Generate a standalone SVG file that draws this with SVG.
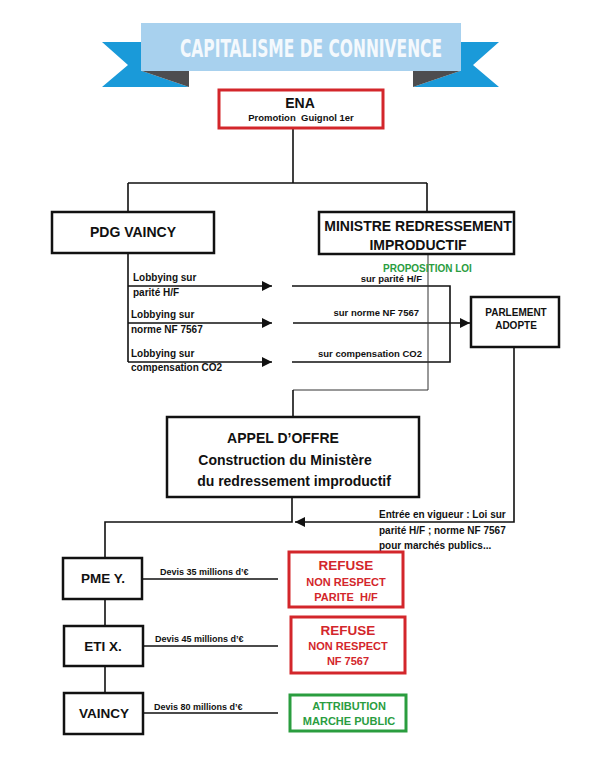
<svg xmlns="http://www.w3.org/2000/svg" width="599" height="777" viewBox="0 0 599 777">
<defs>
<style>
text{font-family:"Liberation Sans",Arial,sans-serif;font-weight:bold;fill:#111}
.box{fill:#fff;stroke:#111;stroke-width:2.5}
.red{fill:#fff;stroke:#d3262b;stroke-width:3}
.grn{fill:#fff;stroke:#2a9d3f;stroke-width:3}
.rt{fill:#d3262b}
.gt{fill:#2a9d3f}
.ln{fill:none;stroke:#111;stroke-width:1.6}
.thin{fill:none;stroke:#333;stroke-width:1}
.mid{text-anchor:middle}
.end{text-anchor:end}
</style>
<marker id="ah" viewBox="0 0 10 10" refX="10" refY="5" markerWidth="10" markerHeight="10" markerUnits="userSpaceOnUse" orient="auto">
<path d="M0,0 L10,5 L0,10 Z" fill="#111"/>
</marker>
</defs>
<rect width="599" height="777" fill="#fff"/>

<g id="banner">
<polygon points="102,42 142,42 142,71 189,87 102,87 128,65" fill="#1a9ad9"/>
<polygon points="142,71 189,71 189,87" fill="#4d4d4f"/>
<polygon points="499,42 460,42 460,71 413,87 499,87 473,65" fill="#1a9ad9"/>
<polygon points="460,71 413,71 413,87" fill="#4d4d4f"/>
<rect x="141" y="23" width="320" height="48" fill="#a8d1ee"/>
<text x="180" y="56.5" textLength="262" lengthAdjust="spacingAndGlyphs" style="font-family:'DejaVu Sans Condensed','Liberation Sans Narrow',sans-serif;font-size:24px;fill:#f4f9fd">CAPITALISME DE CONNIVENCE</text>
</g>

<g id="connectors">
<path class="ln" d="M293,128 V183 M128,183 H427 M128,183 V212 M427,183 V212"/>
<path class="ln" d="M128,253 V362"/>
<path class="ln" d="M128,286 H272" marker-end="url(#ah)"/>
<path class="ln" d="M128,323 H272" marker-end="url(#ah)"/>
<path class="ln" d="M128,362 H272" marker-end="url(#ah)"/>
<path class="ln" d="M292,286 H450 V362 H292"/>
<path class="ln" d="M293,323 H470" marker-end="url(#ah)"/>
<path class="thin" d="M428,254 V390 H293"/>
<path class="ln" d="M293,390 V417"/>
<path class="ln" d="M514,347 V522 H295" marker-end="url(#ah)"/>
<path class="ln" d="M292,497 V522 H105 V558"/>
<path class="ln" d="M105,599 V626 M105,666 V693"/>
<path class="ln" d="M143,579 H278 M143,646 H278 M143,713 H278"/>
</g>

<g id="ena">
<rect class="red" x="219" y="90" width="164" height="38"/>
<text class="mid" x="300" y="108" style="font-size:14px">ENA</text>
<text class="mid" x="301" y="121" style="font-size:9.5px" xml:space="preserve">Promotion  Guignol 1er</text>
</g>

<g id="pdg">
<rect class="box" x="52" y="212" width="162" height="41"/>
<text class="mid" x="133" y="237" style="font-size:14px">PDG VAINCY</text>
</g>

<g id="ministre">
<rect class="box" x="319" y="212" width="195" height="42"/>
<text class="mid" x="418" y="231" style="font-size:14px">MINISTRE REDRESSEMENT</text>
<text class="mid" x="418" y="250" style="font-size:14px">IMPRODUCTIF</text>
</g>

<g id="labels">
<text class="gt" x="383" y="272" style="font-size:10px">PROPOSITION LOI</text>
<text x="133" y="281" style="font-size:10px">Lobbying sur</text>
<text x="133" y="296" style="font-size:10px">parité H/F</text>
<text x="131" y="318" style="font-size:10px">Lobbying sur</text>
<text x="131" y="333" style="font-size:10px">norme NF 7567</text>
<text x="131" y="357" style="font-size:10px">Lobbying sur</text>
<text x="131" y="371" style="font-size:10px">compensation CO2</text>
<text class="end" x="422" y="282" style="font-size:9.5px">sur parité H/F</text>
<text class="end" x="419" y="316" style="font-size:9.5px">sur norme NF 7567</text>
<text class="end" x="422" y="357" style="font-size:9.5px">sur compensation CO2</text>
<text x="379" y="518" style="font-size:10px">Entrée en vigueur : Loi sur</text>
<text x="379" y="534" style="font-size:10px">parité H/F ; norme NF 7567</text>
<text x="379" y="549" style="font-size:10px">pour marchés publics...</text>
<text x="160" y="575" style="font-size:9px">Devis 35 millions d’€</text>
<text x="155" y="642" style="font-size:9px">Devis 45 millions d’€</text>
<text x="154" y="710" style="font-size:9px">Devis 80 millions d’€</text>
</g>

<g id="parlement">
<rect class="box" x="471" y="297" width="88" height="50"/>
<text class="mid" x="516" y="316" style="font-size:10px">PARLEMENT</text>
<text class="mid" x="516" y="329" style="font-size:10px">ADOPTE</text>
</g>

<g id="appel">
<rect class="box" x="167" y="417" width="252" height="80"/>
<text class="mid" x="283" y="443" style="font-size:14px">APPEL D’OFFRE</text>
<text class="mid" x="285" y="465" style="font-size:14px">Construction du Ministère</text>
<text class="mid" x="294" y="486" style="font-size:14px">du redressement improductif</text>
</g>

<g id="pme">
<rect class="box" x="63" y="558" width="79" height="41"/>
<text class="mid" x="103" y="583" style="font-size:13.5px">PME Y.</text>
</g>

<g id="eti">
<rect class="box" x="64" y="626" width="79" height="40"/>
<text class="mid" x="103" y="651" style="font-size:13.5px">ETI X.</text>
</g>

<g id="vaincy">
<rect class="box" x="64" y="693" width="79" height="41"/>
<text class="mid" x="104" y="718" style="font-size:13.5px">VAINCY</text>
</g>

<g id="refuse1">
<rect class="red" x="289" y="552" width="114" height="55"/>
<text class="mid rt" x="346" y="570" style="font-size:13.5px">REFUSE</text>
<text class="mid rt" x="346" y="586" style="font-size:11px">NON RESPECT</text>
<text class="mid rt" x="346" y="601" style="font-size:11px" xml:space="preserve">PARITE  H/F</text>
</g>

<g id="refuse2">
<rect class="red" x="291" y="617" width="114" height="56"/>
<text class="mid rt" x="348" y="635" style="font-size:13.5px">REFUSE</text>
<text class="mid rt" x="348" y="650" style="font-size:11px">NON RESPECT</text>
<text class="mid rt" x="348" y="665" style="font-size:11px">NF 7567</text>
</g>

<g id="attribution">
<rect class="grn" x="290" y="695" width="116" height="36"/>
<text class="mid gt" x="349" y="710" style="font-size:11px">ATTRIBUTION</text>
<text class="mid gt" x="349" y="725" style="font-size:11px">MARCHE PUBLIC</text>
</g>
</svg>
